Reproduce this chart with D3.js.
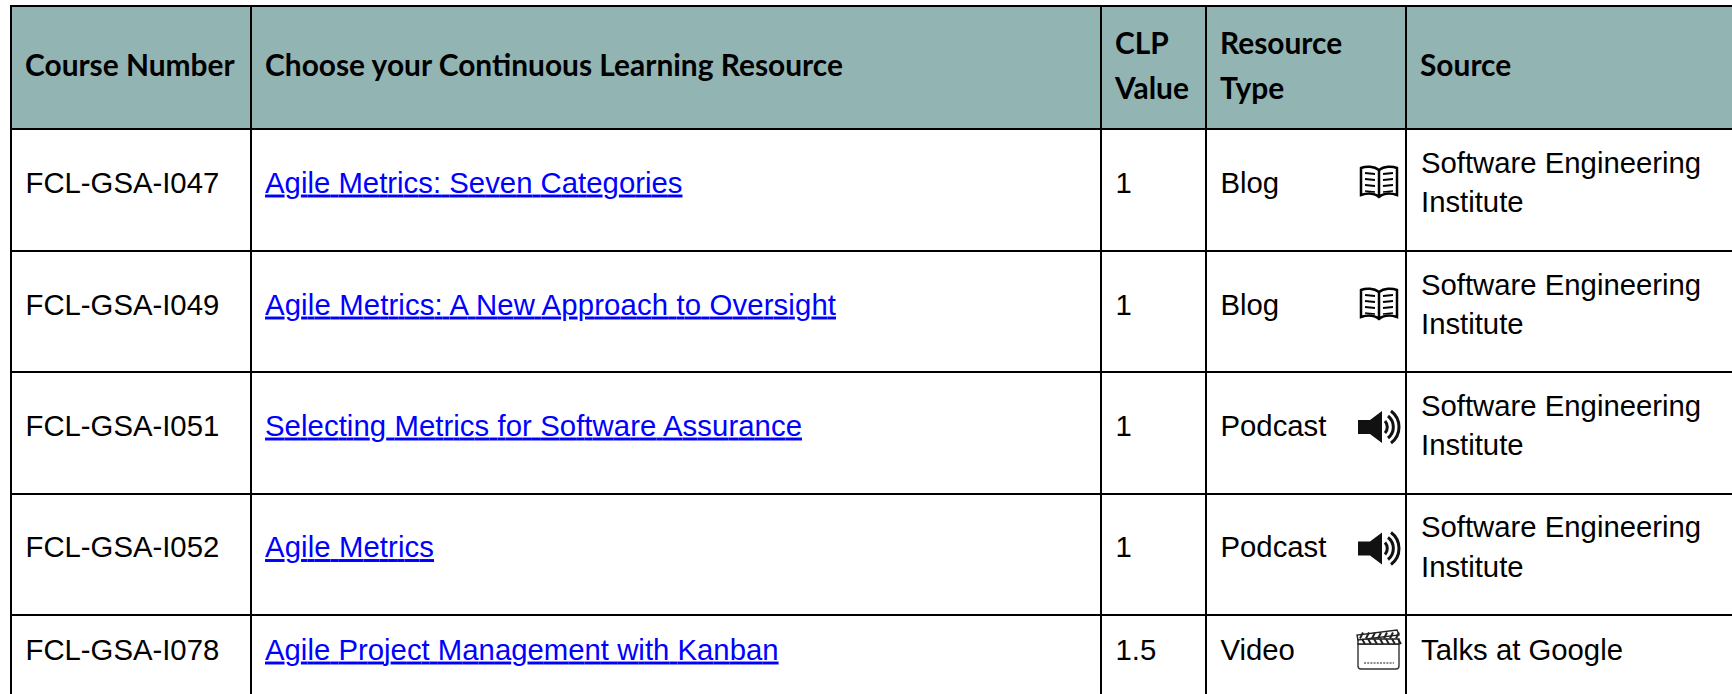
<!DOCTYPE html>
<html>
<head>
<meta charset="utf-8">
<script src="https://cdn.jsdelivr.net/npm/d3@7"></script>
<style>
  html, body { margin: 0; padding: 0; background: #fff; overflow: hidden; }
  svg { display: block; }
</style>
</head>
<body>
<div id="chart"></div>
<script>
var columns = ["number", "resource", "clp", "type", "source"];
var courseNumbers = ["FCL-GSA-I047", "FCL-GSA-I049", "FCL-GSA-I051", "FCL-GSA-I052", "FCL-GSA-I078"];
var resources = ["Agile Metrics: Seven Categories", "Agile Metrics: A New Approach to Oversight", "Selecting Metrics for Software Assurance", "Agile Metrics", "Agile Project Management with Kanban"];
var clpValues = ["1", "1", "1", "1", "1.5"];
var resourceTypes = ["Blog", "Blog", "Podcast", "Podcast", "Video"];
var sources = [["Software Engineering", "Institute"], ["Software Engineering", "Institute"], ["Software Engineering", "Institute"], ["Software Engineering", "Institute"], ["Talks at Google"]];
var headers = [["Course Number"], ["Choose your Continuous Learning Resource"], ["CLP", "Value"], ["Resource", "Type"], ["Source"]];

var width = 1732, height = 694;
var rowKeys = d3.range(courseNumbers.length);

// column and row edges of the table
var colLeft = d3.scaleOrdinal().domain(columns).range([11, 251, 1101, 1206, 1406]);
var rowBottom = d3.scaleOrdinal().domain(rowKeys).range([251, 372, 494, 615, 699]);
var rowCenter = d3.scaleOrdinal().domain(rowKeys).range([182, 304, 425, 546.5, 649]);
var linkLength = d3.scaleOrdinal().domain(rowKeys).range([417.5, 571, 537, 169, 513.6]);
var pad = 15;

var bodyFont = "'Liberation Sans', Arial, sans-serif", bodySize = 29.3;
var headFont = "Lato, sans-serif", headSize = 29.9;

var svg = d3.select("#chart").append("svg")
    .attr("width", width)
    .attr("height", height);

svg.append("rect")
  .attr("width", width)
  .attr("height", height)
  .attr("fill", "#fff");

svg.append("rect")
  .attr("x", 11)
  .attr("y", 6)
  .attr("width", width - 11)
  .attr("height", 123)
  .attr("fill", "#92B5B3");

function addLines(x, cy, lines, size, font, weight, fill, gap) {
  var top = cy - (lines.length - 1) * gap / 2;
  lines.forEach(function(line, i) {
    svg.append("text")
      .attr("x", x)
      .attr("y", top + i * gap + size * 0.36)
      .style("font-family", font)
      .style("font-size", size + "px")
      .style("font-weight", weight)
      .style("fill", fill)
      .text(line);
  });
}

// header
columns.forEach(function(c, i) {
  var cy = headers[i].length > 1 ? 66 : 65;
  addLines(colLeft(c) + pad - 1, cy, headers[i], headSize, headFont, "bold", "#000", 45);
});

// body
rowKeys.forEach(function(r) {
  var cy = rowCenter(r);
  addLines(colLeft("number") + pad - 0.5, cy, [courseNumbers[r]], bodySize, bodyFont, "normal", "#000", 39);
  addLines(colLeft("clp") + pad - 0.5, cy, [clpValues[r]], bodySize, bodyFont, "normal", "#000", 39);
  addLines(colLeft("type") + pad - 0.5, cy, [resourceTypes[r]], bodySize, bodyFont, "normal", "#000", 39);
  addLines(colLeft("source") + pad, cy, sources[r], bodySize, bodyFont, "normal", "#000", 39.5);

  svg.append("text")
    .attr("x", colLeft("resource") + pad - 1)
    .attr("y", cy + bodySize * 0.36)
    .attr("textLength", linkLength(r))
    .attr("lengthAdjust", "spacing")
    .style("font-family", bodyFont)
    .style("font-size", bodySize + "px")
    .style("fill", "#0000FF")
    .style("text-decoration", "underline")
    .text(resources[r]);

  drawIcon(resourceTypes[r], 1379, cy);
});

// little resource type pictures, drawn around their centre
function drawIcon(type, cx, cy) {
  var g = svg.append("g").attr("transform", "translate(" + cx + "," + cy + ")");
  if (type === "Blog") {
    g.append("path")
      .attr("d", "M0,-12 C-5,-16 -13,-16 -18,-14 L-18,13 C-12,11 -5,11 0,15 C5,11 12,11 18,13 L18,-14 C13,-16 5,-16 0,-12 Z M0,-12 L0,15")
      .attr("fill", "none").attr("stroke", "#000").attr("stroke-width", 2.5);
    [-8, -2, 4].forEach(function(y) {
      g.append("path")
        .attr("d", "M-14," + (y - 1) + " L-4," + y + " M4," + y + " L14," + (y - 1))
        .attr("stroke", "#000").attr("stroke-width", 2.2);
    });
    g.append("path")
      .attr("d", "M-14,9 L-4,10 M4,10 L14,9")
      .attr("stroke", "#000").attr("stroke-width", 1.6);
  } else if (type === "Podcast") {
    g.attr("transform", "translate(" + cx + "," + (cy + 2) + ")");
    g.append("path")
      .attr("d", "M-21,-7 L-9,-7 L3,-16 L3,16 L-9,7 L-21,7 Z")
      .attr("fill", "#111");
    g.append("path")
      .attr("d", "M6,-6 A9,9 0 0 1 6,6 M9,-11 A14,14 0 0 1 9,11 M12,-16 A20,20 0 0 1 12,16")
      .attr("fill", "none").attr("stroke", "#111").attr("stroke-width", 3);
  } else {
    g.attr("transform", "translate(" + cx + "," + (cy + 3) + ")");
    g.append("path")
      .attr("d", "M-21,-8 L20,-8 L20,14 Q20,17 17,17 L-18,17 Q-21,17 -21,14 Z")
      .attr("fill", "#fff").attr("stroke", "#333").attr("stroke-width", 1.4);
    g.append("path")
      .attr("d", "M-21,-8 L20,-8 L20,-13 L-21,-13 Z")
      .attr("fill", "#fff").attr("stroke", "#222").attr("stroke-width", 1.4);
    g.append("path")
      .attr("d", "M-21,-12 L-22,-17 L18,-22 L20,-17 Z")
      .attr("fill", "#fff").attr("stroke", "#222").attr("stroke-width", 1.4);
    d3.range(-17, 20, 6).forEach(function(x) {
      g.append("path")
        .attr("d", "M" + x + ",-13 L" + (x + 3) + ",-8 M" + (x - 2) + ",-13.5 L" + (x + 1) + ",-19.5")
        .attr("stroke", "#222").attr("stroke-width", 2);
    });
    g.append("line")
      .attr("x1", -15).attr("x2", 15).attr("y1", 11).attr("y2", 11)
      .attr("stroke", "#666").attr("stroke-width", 1.6)
      .attr("stroke-dasharray", "2 1.2");
  }
}

// grid lines
var lineColor = "#000", lineWidth = 2;
[6, 129].concat(rowBottom.range().slice(0, 4)).forEach(function(y) {
  svg.append("line")
    .attr("x1", 10).attr("x2", width)
    .attr("y1", y).attr("y2", y)
    .attr("stroke", lineColor).attr("stroke-width", lineWidth);
});
colLeft.range().forEach(function(x) {
  svg.append("line")
    .attr("x1", x).attr("x2", x)
    .attr("y1", 5).attr("y2", height)
    .attr("stroke", lineColor).attr("stroke-width", lineWidth);
});
</script>
</body>
</html>
